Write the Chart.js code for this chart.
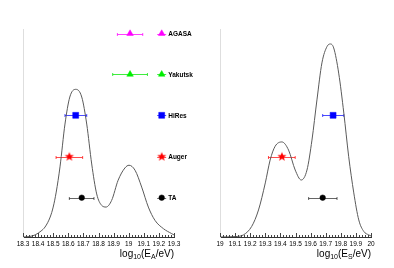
<!DOCTYPE html>
<html>
<head>
<meta charset="utf-8">
<script src="https://cdn.jsdelivr.net/npm/chart.js@4.4.1/dist/chart.umd.min.js"></script>
<style>
  html, body { margin: 0; padding: 0; background: #fff; }
  #wrap { position: relative; width: 394px; height: 268px; }
  #wrap canvas { position: absolute; top: 0; width: 197px; height: 268px; }
  #left { left: 0; }
  #right { left: 197px; }
</style>
</head>
<body>
<div id="wrap">
  <canvas id="left" width="197" height="268"></canvas>
  <canvas id="right" width="197" height="268"></canvas>
</div>
<script>
// Energy-scale comparison: two density curves + experiment markers

const LEFT_TICKS  = [18.3, 18.4, 18.5, 18.6, 18.7, 18.8, 18.9, 19, 19.1, 19.2, 19.3];
const RIGHT_TICKS = [19, 19.1, 19.2, 19.3, 19.4, 19.5, 19.6, 19.7, 19.8, 19.9, 20];

// curve (y in units of the panel height)
const LEFT_CURVE_X = [18.30, 18.34, 18.38, 18.42, 18.446, 18.48, 18.50, 18.52, 18.545, 18.578,
  18.61, 18.649, 18.689, 18.722, 18.755, 18.788, 18.821, 18.85, 18.887, 18.93,
  18.975, 19.002, 19.042, 19.086, 19.13, 19.174, 19.23, 19.285, 19.30];
const LEFT_CURVE_Y = [0, 0.002, 0.010, 0.029, 0.048, 0.096, 0.144, 0.216, 0.337, 0.543,
  0.673, 0.710, 0.673, 0.543, 0.351, 0.207, 0.152, 0.144, 0.176, 0.273,
  0.332, 0.345, 0.321, 0.240, 0.144, 0.080, 0.040, 0.016, 0.010];

const RIGHT_CURVE_X = [19.00, 19.10, 19.155, 19.21, 19.255, 19.30, 19.332, 19.365, 19.41, 19.454,
  19.498, 19.538, 19.576, 19.609, 19.642, 19.675, 19.709, 19.731, 19.753, 19.786,
  19.82, 19.852, 19.886, 19.919, 19.952, 19.985, 20.00];
const RIGHT_CURVE_Y = [0, 0.002, 0.010, 0.051, 0.130, 0.260, 0.370, 0.436, 0.457, 0.418,
  0.322, 0.274, 0.322, 0.466, 0.659, 0.837, 0.916, 0.928, 0.909, 0.788,
  0.596, 0.388, 0.212, 0.082, 0.027, 0.010, 0.005];

const EXPERIMENTS = ['AGASA', 'Yakutsk', 'HiRes', 'Auger', 'TA'];
const ROW_Y = [0.978, 0.782, 0.585, 0.386, 0.189];

const LEFT_E   = [19.009, 19.009, 18.649, 18.607, 18.689];
const LEFT_LO  = [18.925, 18.894, 18.578, 18.519, 18.607];
const LEFT_HI  = [19.093, 19.124, 18.722, 18.695, 18.770];
const RIGHT_E  = [null, null, 19.749, 19.410, 19.680];
const RIGHT_LO = [null, null, 19.680, 19.321, 19.587];
const RIGHT_HI = [null, null, 19.820, 19.498, 19.775];

const FONT = "'Liberation Sans', Arial, sans-serif";

function makeStar(r, color) {
  const c = document.createElement('canvas');
  const s = Math.ceil(r * 2) + 2;
  c.width = s; c.height = s;
  const g = c.getContext('2d');
  g.fillStyle = color;
  g.beginPath();
  for (let i = 0; i < 10; i++) {
    const rad = i % 2 ? r * 0.42 : r;
    const a = -Math.PI / 2 + i * Math.PI / 5;
    g.lineTo(s / 2 + rad * Math.cos(a), s / 2 + rad * Math.sin(a));
  }
  g.closePath();
  g.fill();
  return c;
}

const MARKERS = {
  AGASA:   { color: '#ff00ff', err: 'rgba(255,0,255,0.75)', style: 'triangle', radius: 3.8 },
  Yakutsk: { color: '#00ee00', err: 'rgba(0,230,0,0.75)',   style: 'triangle', radius: 3.8 },
  HiRes:   { color: '#0000ff', err: 'rgba(0,0,255,0.7)',    style: 'rect',     radius: 4.2 },
  Auger:   { color: '#ff0000', err: 'rgba(255,0,0,0.7)',    style: makeStar(4.8, '#ff0000'), radius: 4.8 },
  TA:      { color: '#000000', err: 'rgba(0,0,0,0.6)',      style: 'circle',   radius: 2.8 },
};

function pointSets(vals, lo, hi) {
  return EXPERIMENTS.map((name, i) => {
    if (vals[i] == null) return null;
    const m = MARKERS[name];
    return {
      label: name,
      data: [{ x: vals[i], y: ROW_Y[i] }],
      errLow: lo[i],
      errHigh: hi[i],
      errColor: m.err,
      pointStyle: m.style,
      pointRadius: m.radius,
      backgroundColor: m.color,
      borderColor: m.color,
      pointBorderWidth: 0.5,
      showLine: false,
      order: 1,
    };
  }).filter(Boolean);
}

// horizontal error bars, drawn through the scales
const errorBars = {
  id: 'errorBars',
  beforeDatasetsDraw(chart) {
    const { ctx, scales: { x, y } } = chart;
    chart.data.datasets.forEach(ds => {
      if (ds.errLow == null) return;
      const py = Math.round(y.getPixelForValue(ds.data[0].y)) + 0.5;
      const x0 = x.getPixelForValue(ds.errLow);
      const x1 = x.getPixelForValue(ds.errHigh);
      ctx.save();
      ctx.strokeStyle = ds.errColor;
      ctx.lineWidth = 1;
      ctx.beginPath();
      ctx.moveTo(x0, py); ctx.lineTo(x1, py);
      ctx.moveTo(x0, py - 1.5); ctx.lineTo(x0, py + 1.5);
      ctx.moveTo(x1, py - 1.5); ctx.lineTo(x1, py + 1.5);
      ctx.stroke();
      ctx.restore();
    });
  },
};

// ROOT-style ticks pointing up into the frame
const insideTicks = {
  id: 'insideTicks',
  afterDraw(chart, args, opts) {
    const { ctx, scales: { x }, chartArea } = chart;
    const majors = opts.values;
    const yb = chartArea.bottom;
    ctx.save();
    ctx.strokeStyle = '#444';
    ctx.lineWidth = 1;
    ctx.beginPath();
    majors.forEach((v, i) => {
      const px = Math.round(x.getPixelForValue(v)) + 0.5;
      ctx.moveTo(px, yb); ctx.lineTo(px, yb - 4);
      if (i < majors.length - 1) {
        const step = (majors[i + 1] - v) / 5;
        for (let k = 1; k < 5; k++) {
          const mx = Math.round(x.getPixelForValue(v + k * step)) + 0.5;
          ctx.moveTo(mx, yb); ctx.lineTo(mx, yb - 2);
        }
      }
    });
    ctx.stroke();
    ctx.restore();
  },
};

// axis title with subscripts: log10(E_X/eV)
const axisTitle = {
  id: 'axisTitle',
  afterDraw(chart, args, opts) {
    const { ctx, chartArea } = chart;
    const parts = [['log', 10, 0], ['10', 7, 2.5], ['(E', 10, 0], [opts.sub, 7, 2.5], ['/eV)', 10, 0]];
    ctx.save();
    let w = 0;
    parts.forEach(p => { ctx.font = p[1] + 'px ' + FONT; w += ctx.measureText(p[0]).width; });
    let x = chartArea.right - w;
    const base = chartArea.bottom + 19.5;
    ctx.fillStyle = '#000';
    ctx.textBaseline = 'alphabetic';
    parts.forEach(p => {
      ctx.font = p[1] + 'px ' + FONT;
      ctx.fillText(p[0], x, base + p[2]);
      x += ctx.measureText(p[0]).width;
    });
    ctx.restore();
  },
};

// marker legend aligned to the data rows
const rowLegend = {
  id: 'rowLegend',
  afterDraw(chart, args, opts) {
    if (!opts.show) return;
    const { ctx, chartArea, scales: { y } } = chart;
    const mx = chartArea.right - 12.3;
    chart.data.datasets.forEach(ds => {
      if (ds.errLow == null) return;
      const py = y.getPixelForValue(ds.data[0].y);
      ctx.save();
      ctx.strokeStyle = ds.errColor;
      ctx.lineWidth = 1;
      ctx.beginPath();
      ctx.moveTo(mx - 4.5, Math.round(py) + 0.5);
      ctx.lineTo(mx + 4.5, Math.round(py) + 0.5);
      ctx.stroke();
      ctx.fillStyle = ds.backgroundColor;
      ctx.strokeStyle = ds.borderColor;
      ctx.lineWidth = ds.pointBorderWidth;
      Chart.helpers.drawPoint(ctx, { pointStyle: ds.pointStyle, radius: ds.pointRadius, rotation: 0, borderWidth: ds.pointBorderWidth }, mx, py);
      ctx.fillStyle = '#000';
      ctx.font = 'bold 6.5px ' + FONT;
      ctx.textBaseline = 'middle';
      ctx.fillText(ds.label, mx + 6.5, py + 0.5);
      ctx.restore();
    });
  },
};

function buildPanel(canvasId, ticks, curveX, curveY, points, sub, showLegend) {
  const curve = {
    label: 'density',
    data: curveX.map((v, i) => ({ x: v, y: curveY[i] })),
    showLine: true,
    borderColor: '#5a5a5a',
    borderWidth: 1,
    pointRadius: 0,
    cubicInterpolationMode: 'monotone',
    fill: false,
    order: 2,
  };

  return new Chart(document.getElementById(canvasId), {
    type: 'scatter',
    data: { datasets: [curve, ...points] },
    options: {
      responsive: false,
      maintainAspectRatio: false,
      animation: false,
      layout: { padding: { left: 23, right: 23, top: 29, bottom: 0 } },
      scales: {
        x: {
          type: 'linear',
          min: ticks[0],
          max: ticks[ticks.length - 1],
          afterBuildTicks: s => { s.ticks = ticks.map(v => ({ value: v })); },
          afterFit: s => { s.height = 31; },
          grid: { display: false, drawTicks: false, tickLength: 0 },
          border: { display: true, color: '#333', width: 1 },
          ticks: {
            autoSkip: false,
            maxRotation: 0,
            padding: 3,
            color: '#000',
            font: { family: FONT, size: 6.5 },
            callback: v => String(Math.round(v * 10) / 10),
          },
        },
        y: {
          type: 'linear',
          min: 0,
          max: 1,
          afterFit: s => { s.width = 0; },
          grid: { display: false, drawTicks: false },
          border: { display: true, color: '#dedede', width: 1, dash: [1, 2] },
          ticks: { display: false },
        },
      },
      plugins: {
        legend: { display: false },
        tooltip: { enabled: false },
        insideTicks: { values: ticks },
        axisTitle: { sub },
        rowLegend: { show: showLegend },
      },
    },
    plugins: [errorBars, insideTicks, axisTitle, rowLegend],
  });
}

buildPanel('left', LEFT_TICKS, LEFT_CURVE_X, LEFT_CURVE_Y, pointSets(LEFT_E, LEFT_LO, LEFT_HI), 'A', true);
buildPanel('right', RIGHT_TICKS, RIGHT_CURVE_X, RIGHT_CURVE_Y, pointSets(RIGHT_E, RIGHT_LO, RIGHT_HI), 'S', false);
</script>
</body>
</html>
